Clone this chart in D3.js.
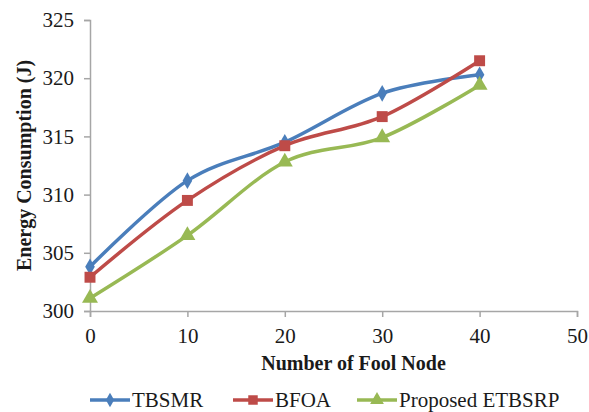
<!DOCTYPE html>
<html>
<head>
<meta charset="utf-8">
<script src="https://cdn.jsdelivr.net/npm/d3@7"></script>
<style>
  body { margin: 0; background: #fff; }
  text { font-family: "Liberation Serif", "Times New Roman", serif; fill: #1a1a1a; }
</style>
</head>
<body>
<script>
// Data
const nodes = [0, 10, 20, 30, 40]
const tbsmr = [303.8, 311.2, 314.5, 318.7, 320.3]
const bfoa = [302.9, 309.5, 314.2, 316.7, 321.5]
const etbsrp = [301.1, 306.5, 312.8, 314.9, 319.4]
const xTicks = [0, 10, 20, 30, 40, 50]
const yTicks = [300, 305, 310, 315, 320, 325]

const series = [
  { name: "TBSMR", values: tbsmr, color: "#4A7EBB", symbol: d3.symbolDiamond, size: 80 },
  { name: "BFOA", values: bfoa, color: "#BE4B48", symbol: d3.symbolSquare, size: 120 },
  { name: "Proposed ETBSRP", values: etbsrp, color: "#98B954", symbol: d3.symbolTriangle, size: 110 }
]

const W = 589, H = 412
const margin = { top: 20, right: 12, bottom: 101, left: 90 }
const width = 577 - margin.left
const height = 311 - margin.top

const svg = d3.select("body").append("svg")
  .attr("width", W).attr("height", H)

const g = svg.append("g")
  .attr("transform", `translate(${margin.left}, ${margin.top})`)

const x = d3.scaleLinear().domain([0, 50]).range([0, width])
const y = d3.scaleLinear().domain([300, 325]).range([height, 0])

// Axes
const yAxis = g.append("g")
  .call(d3.axisLeft(y).tickValues(yTicks).tickSize(6).tickPadding(10))
yAxis.select(".domain").attr("stroke", "#a6a6a6").attr("stroke-width", 1.5)
yAxis.selectAll(".tick line").attr("stroke", "#a6a6a6").attr("stroke-width", 1.5)
yAxis.selectAll(".tick text").style("font-size", "21px")

const xAxis = g.append("g")
  .attr("transform", `translate(0, ${height})`)
  .call(d3.axisBottom(x).tickValues(xTicks).tickSize(6).tickPadding(11))
xAxis.select(".domain").attr("stroke", "#a6a6a6").attr("stroke-width", 1.5)
xAxis.selectAll(".tick line").attr("stroke", "#a6a6a6").attr("stroke-width", 1.5)
xAxis.selectAll(".tick text").style("font-size", "21px")

// Axis titles
svg.append("text")
  .attr("transform", `translate(31, ${margin.top + height / 2}) rotate(-90)`)
  .attr("text-anchor", "middle")
  .style("font-size", "20px").style("font-weight", "bold")
  .text("Energy Consumption (J)")

svg.append("text")
  .attr("x", margin.left + width / 2 + 20)
  .attr("y", 370)
  .attr("text-anchor", "middle")
  .style("font-size", "20px").style("font-weight", "bold")
  .text("Number of Fool Node")

// Lines
const line = d3.line()
  .x((d, i) => x(nodes[i]))
  .y(d => y(d))
  .curve(d3.curveCatmullRom.alpha(0))

series.forEach(s => {
  g.append("path")
    .datum(s.values)
    .attr("fill", "none")
    .attr("stroke", s.color)
    .attr("stroke-width", 3.5)
    .attr("stroke-linejoin", "round")
    .attr("d", line)
})

series.forEach(s => {
  g.selectAll(null)
    .data(s.values)
    .enter()
    .append("path")
    .attr("d", d3.symbol().type(s.symbol).size(s.size))
    .attr("transform", (d, i) => `translate(${x(nodes[i])}, ${y(d)})`)
    .attr("fill", s.color)
})

// Legend
const legendX = [90, 233, 357]
const legend = svg.append("g")
series.forEach((s, i) => {
  const lg = legend.append("g").attr("transform", `translate(${legendX[i]}, 400)`)
  lg.append("line")
    .attr("x1", 0).attr("x2", 40)
    .attr("stroke", s.color).attr("stroke-width", 3.5)
  lg.append("path")
    .attr("d", d3.symbol().type(s.symbol).size(s.size * 0.75))
    .attr("transform", "translate(20, 0)")
    .attr("fill", s.color)
  lg.append("text")
    .attr("x", 42).attr("y", 7)
    .style("font-size", "21px")
    .text(s.name)
})
</script>
</body>
</html>
